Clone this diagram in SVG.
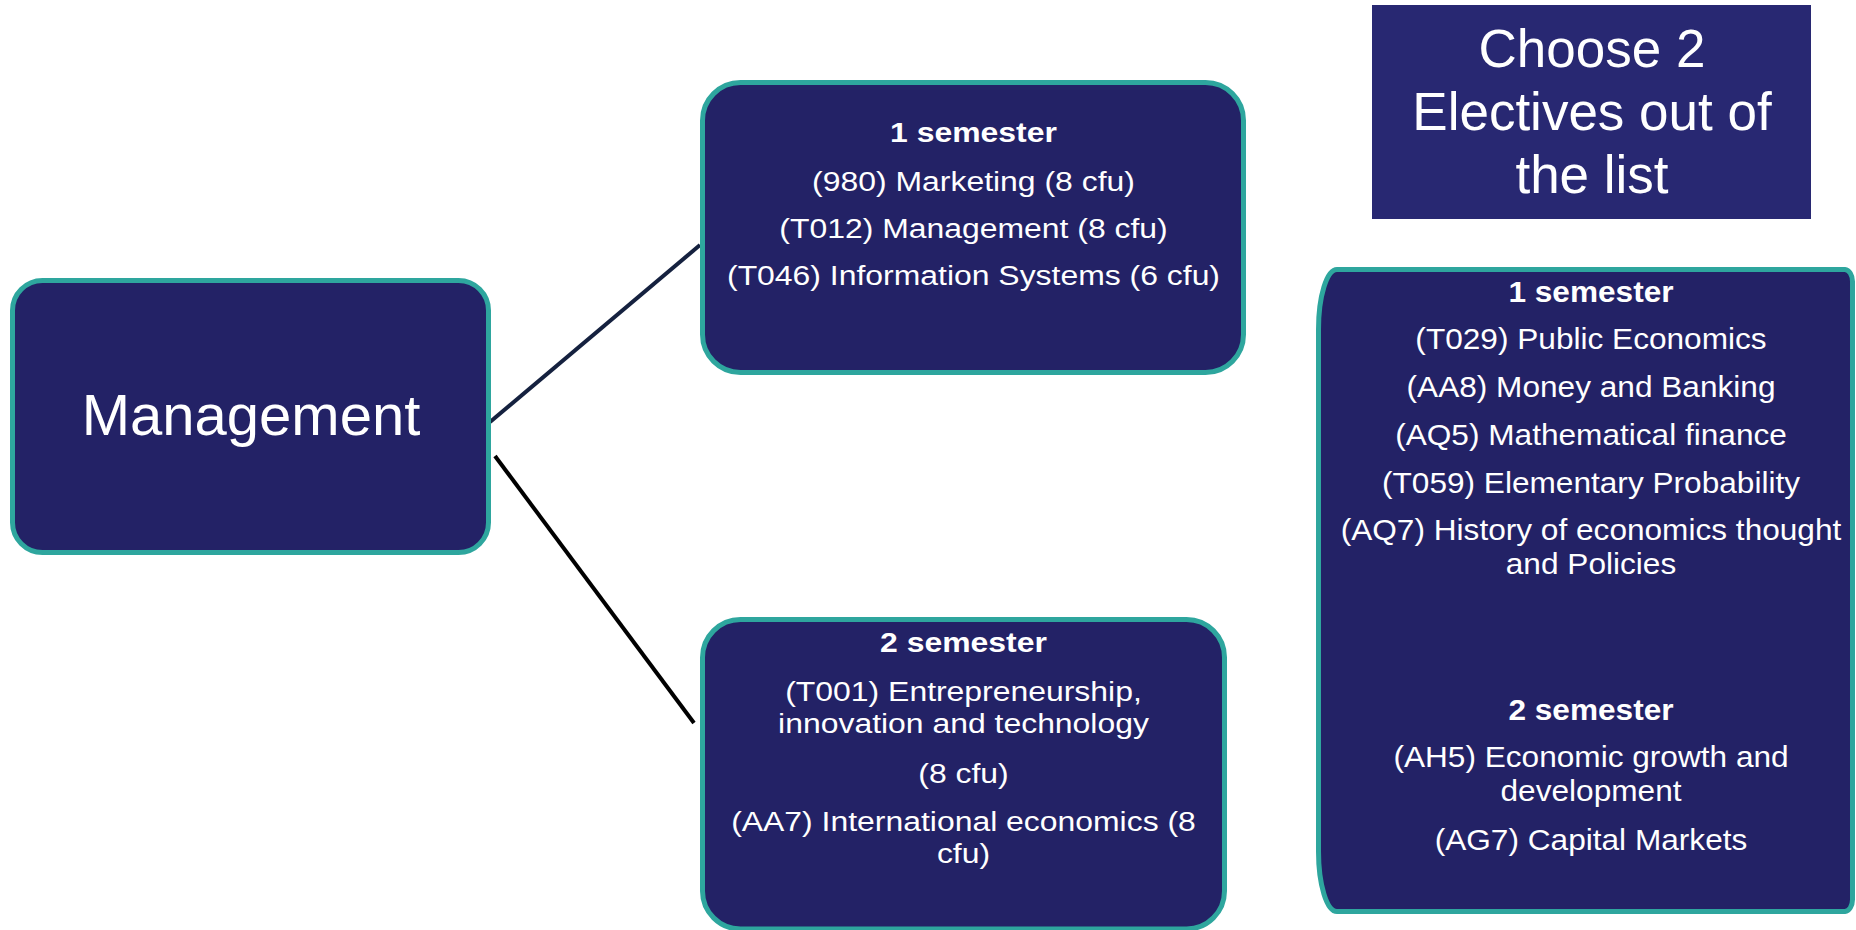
<svg xmlns="http://www.w3.org/2000/svg" width="1856" height="930" viewBox="0 0 1856 930">
<style>
  .box { fill: #232266; stroke: #2EA69E; stroke-width: 5; }
  .t { font-family: "Liberation Sans", Arial, sans-serif; fill: #FFFFFF; text-anchor: middle; }
  .s { font-size: 28px; }
  .r { font-size: 29px; }
  .b { font-weight: bold; }
</style>
<rect width="1856" height="930" fill="#FFFFFF"/>

<g id="connectors">
  <line x1="490" y1="422" x2="700" y2="245" stroke="#15213F" stroke-width="4"/>
  <line x1="495" y1="456" x2="694" y2="723" stroke="#000000" stroke-width="4"/>
  <line x1="1219" y1="793" x2="1224" y2="789" stroke="#000000" stroke-width="1.5"/>
</g>

<g id="node-management">
  <rect class="box" x="12.5" y="280.5" width="476" height="272" rx="30" ry="30"/>
  <text class="t" x="251" y="435" font-size="58">Management</text>
</g>

<g id="node-sem1">
  <rect class="box" x="702.5" y="82.5" width="541" height="290" rx="38" ry="38"/>
  <g transform="translate(973.5 0) scale(1.14 1)">
    <text class="t s b" x="0" y="142.3">1 semester</text>
    <text class="t s" x="0" y="190.7">(980) Marketing (8 cfu)</text>
    <text class="t s" x="0" y="237.7">(T012) Management (8 cfu)</text>
    <text class="t s" x="0" y="285">(T046) Information Systems (6 cfu)</text>
  </g>
</g>

<g id="node-sem2">
  <rect class="box" x="702.5" y="619.5" width="522" height="309.5" rx="38" ry="38"/>
  <g transform="translate(963.5 0) scale(1.14 1)">
    <text class="t s b" x="0" y="652.3">2 semester</text>
    <text class="t s" x="0" y="701">(T001) Entrepreneurship,</text>
    <text class="t s" x="0" y="733">innovation and technology</text>
    <text class="t s" x="0" y="782.7">(8 cfu)</text>
    <text class="t s" x="0" y="830.7">(AA7) International economics (8</text>
    <text class="t s" x="0" y="862.7">cfu)</text>
  </g>
</g>

<g id="node-choose">
  <rect x="1372" y="5" width="439" height="214" fill="#282872"/>
  <text class="t" x="1592" y="66.7" font-size="53">Choose 2</text>
  <text class="t" x="1592" y="130" font-size="53">Electives out of</text>
  <text class="t" x="1592" y="193.3" font-size="53">the list</text>
</g>

<g id="node-electives">
  <path class="box" d="M 1337 269.5 L 1845 269.5 A 8 12 0 0 1 1852.5 281.5 L 1852.5 899.5 A 8 12 0 0 1 1845 911.5 L 1337 911.5 A 18.5 60 0 0 1 1318.5 851.5 L 1318.5 329.5 A 18.5 60 0 0 1 1337 269.5 Z"/>
  <g transform="translate(1591 0) scale(1.09 1)">
    <text class="t r b" x="0" y="301.7">1 semester</text>
    <text class="t r" x="0" y="349.3">(T029) Public Economics</text>
    <text class="t r" x="0" y="397.3">(AA8) Money and Banking</text>
    <text class="t r" x="0" y="445">(AQ5) Mathematical finance</text>
    <text class="t r" x="0" y="492.7">(T059) Elementary Probability</text>
    <text class="t r" x="0" y="540">(AQ7) History of economics thought</text>
    <text class="t r" x="0" y="574">and Policies</text>
    <text class="t r b" x="0" y="720">2 semester</text>
    <text class="t r" x="0" y="767.3">(AH5) Economic growth and</text>
    <text class="t r" x="0" y="800.7">development</text>
    <text class="t r" x="0" y="850">(AG7) Capital Markets</text>
  </g>
</g>
</svg>
